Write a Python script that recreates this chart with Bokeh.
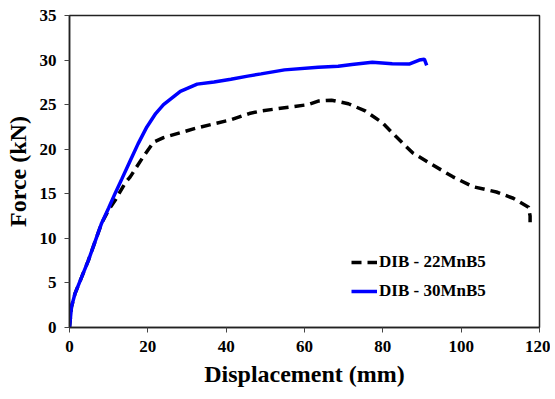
from bokeh.plotting import figure
from bokeh.models import Legend, LegendItem, FixedTicker, Range1d
from bokeh.embed import file_html
from bokeh.resources import INLINE

# DIB - 22MnB5 (black dashed)
x_22 = [0, 0.5, 1.4, 3.1, 4.8, 6.5, 8.2, 10.0, 11.7, 14.2, 15.5, 18.9, 21.5, 24.0,
        32.6, 41.2, 45.9, 49.0, 54.9, 60.9, 63.5, 66.9, 71.2, 75.5, 79.8, 83.3,
        87.6, 91.9, 97.9, 103.0, 109.0, 113.3, 117.2, 117.6, 117.6]
y_22 = [0, 2.3, 3.8, 5.65, 7.5, 9.6, 11.7, 13.2, 14.3, 16.2, 16.9, 19.2, 20.8, 21.3,
        22.4, 23.3, 24.0, 24.3, 24.65, 25.0, 25.4, 25.5, 25.1, 24.3, 23.0, 21.45,
        19.6, 18.45, 16.9, 15.8, 15.2, 14.5, 13.5, 12.5, 11.8]

# DIB - 30MnB5 (blue solid)
x_30 = [0, 0.5, 1.4, 3.1, 4.8, 6.5, 8.2, 10.0, 11.7, 13.4, 15.5, 17.5, 19.75, 22.0,
        24.0, 28.3, 32.6, 36.9, 41.2, 45.5, 48.9, 54.9, 63.5, 68.6, 72.1, 77.3,
        82.4, 86.7, 89.3, 90.6, 91.2]
y_30 = [0, 2.3, 3.8, 5.65, 7.5, 9.6, 11.7, 13.4, 15.1, 16.7, 18.7, 20.6, 22.5, 24.0,
        25.0, 26.5, 27.3, 27.55, 27.85, 28.2, 28.45, 28.9, 29.2, 29.3, 29.5, 29.75,
        29.6, 29.55, 30.0, 30.1, 29.4]

x_ticks = [0, 20, 40, 60, 80, 100, 120]
y_ticks = [0, 5, 10, 15, 20, 25, 30, 35]

FONT = "Liberation Serif"

p = figure(width=550, height=389, output_backend="svg", toolbar_location=None,
           x_range=Range1d(0, 120), y_range=Range1d(0, 35),
           min_border_left=69, min_border_right=11, min_border_top=15, min_border_bottom=56)
p.background_fill_color = "white"
p.border_fill_color = "white"
p.grid.visible = False
p.outline_line_color = "#222222"
p.outline_line_width = 1.5

r22 = p.line(x_22, y_22, line_color="black", line_width=3.5, line_dash="10 6")
r30 = p.line(x_30, y_30, line_color="#0000FF", line_width=3.5)

for ax in (p.xaxis[0], p.yaxis[0]):
    ax.axis_line_color = "#222222"
    ax.axis_line_width = 1.5
    ax.major_tick_line_color = "#444444"
    ax.major_tick_in = 0
    ax.major_tick_out = 5
    ax.minor_tick_line_color = None
    ax.major_label_text_font = FONT
    ax.major_label_text_font_style = "bold"
    ax.major_label_text_font_size = "17px"
    ax.major_label_text_color = "black"
    ax.axis_label_text_font = FONT
    ax.axis_label_text_font_style = "bold"
    ax.axis_label_text_font_size = "24px"
    ax.axis_label_text_color = "black"

p.xaxis[0].ticker = FixedTicker(ticks=x_ticks)
p.yaxis[0].ticker = FixedTicker(ticks=y_ticks)
p.xaxis[0].axis_label = "Displacement (mm)"
p.yaxis[0].axis_label = "Force (kN)"
p.xaxis[0].major_label_standoff = 8
p.yaxis[0].major_label_standoff = 8
p.xaxis[0].axis_label_standoff = 6
p.yaxis[0].axis_label_standoff = 6

legend = Legend(items=[LegendItem(label="DIB - 22MnB5", renderers=[r22]),
                       LegendItem(label="DIB - 30MnB5", renderers=[r30])],
                location=(282, 26))
legend.border_line_color = None
legend.background_fill_alpha = 0
legend.padding = 0
legend.margin = 0
legend.spacing = 9
legend.glyph_width = 26
legend.glyph_height = 20
legend.label_height = 20
legend.label_standoff = 2
legend.label_text_font = FONT
legend.label_text_font_style = "bold"
legend.label_text_font_size = "17px"
legend.label_text_color = "black"
p.add_layout(legend, "center")

open("out.html", "w").write(file_html(p, INLINE))
